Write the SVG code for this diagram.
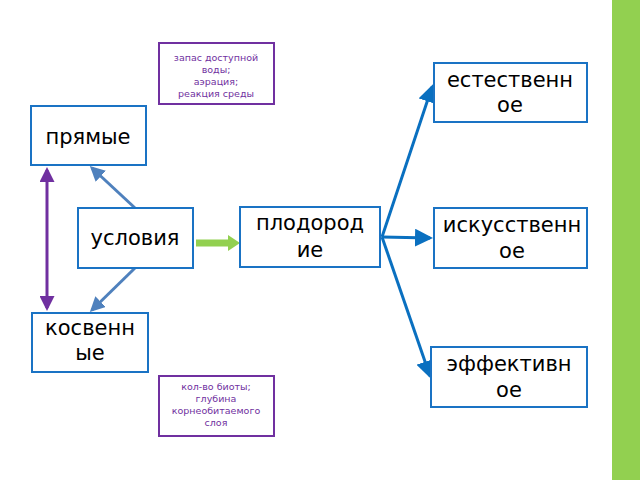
<svg xmlns="http://www.w3.org/2000/svg" width="640" height="480" viewBox="0 0 640 480">
<style>
.b{fill:#fff;stroke:#1a73c4;stroke-width:2}
.p{fill:#fff;stroke:#7030a0;stroke-width:2}
.t{font-family:"DejaVu Sans",sans-serif;font-size:21px;fill:#000;text-anchor:middle}
.s{font-family:"DejaVu Sans",sans-serif;font-size:9.5px;fill:#7030a0;text-anchor:middle}
</style>
<defs>
<marker id="ab" markerWidth="6" markerHeight="6" refX="5" refY="3" orient="auto" markerUnits="strokeWidth"><path d="M0,0L6,3L0,6z" fill="#0a70c0"/></marker>
<marker id="ag" markerWidth="5" markerHeight="5" refX="4" refY="2.5" orient="auto" markerUnits="strokeWidth"><path d="M0,0L5,2.5L0,5z" fill="#4f81bd"/></marker>
<marker id="ap" markerWidth="5" markerHeight="5" refX="4" refY="2.5" orient="auto-start-reverse" markerUnits="strokeWidth"><path d="M0,0L5,2.5L0,5z" fill="#7030a0"/></marker>
</defs>
<rect x="612" y="0" width="28" height="480" fill="#92d050"/>
<g id="connectors" fill="none">
<path d="M135,208L92,168" stroke="#4f81bd" stroke-width="3" marker-end="url(#ag)"/>
<path d="M135,268L92,310" stroke="#4f81bd" stroke-width="3" marker-end="url(#ag)"/>
<path d="M47,170V308" stroke="#7030a0" stroke-width="3" marker-start="url(#ap)" marker-end="url(#ap)"/>
<path d="M196,243H232" stroke="#92d050" stroke-width="7"/>
<path d="M228,235L240,243L228,251z" fill="#92d050"/>
<path d="M382,237L432,87" stroke="#0a70c0" stroke-width="3" marker-end="url(#ab)"/>
<path d="M382,237L430,238" stroke="#0a70c0" stroke-width="3" marker-end="url(#ab)"/>
<path d="M382,237L430,376" stroke="#0a70c0" stroke-width="3" marker-end="url(#ab)"/>
</g>
<g id="n1"><rect class="p" x="159" y="43" width="115" height="61"/><text class="s"><tspan x="216" y="61">запас доступной</tspan><tspan x="216" y="73">воды;</tspan><tspan x="216" y="85">аэрация;</tspan><tspan x="216" y="97">реакция среды</tspan></text></g>
<g id="n2"><rect class="p" x="159" y="376" width="115" height="60"/><text class="s"><tspan x="216" y="390">кол-во биоты;</tspan><tspan x="216" y="402">глубина</tspan><tspan x="216" y="414">корнеобитаемого</tspan><tspan x="216" y="426">слоя</tspan></text></g>
<g id="pr"><rect class="b" x="31" y="106" width="115" height="59"/><text class="t" x="88" y="144">прямые</text></g>
<g id="us"><rect class="b" x="78" y="208" width="115" height="60"/><text class="t" x="135" y="245">условия</text></g>
<g id="ko"><rect class="b" x="32" y="313" width="116" height="59"/><text class="t"><tspan x="90" y="335">косвенн</tspan><tspan x="90" y="360">ые</tspan></text></g>
<g id="pl"><rect class="b" x="240" y="207" width="140" height="60"/><text class="t"><tspan x="310" y="230">плодород</tspan><tspan x="310" y="257">ие</tspan></text></g>
<g id="es"><rect class="b" x="434" y="63" width="153" height="59"/><text class="t"><tspan x="510" y="87">естественн</tspan><tspan x="510" y="112">ое</tspan></text></g>
<g id="is"><rect class="b" x="434" y="208" width="153" height="60"/><text class="t"><tspan x="512" y="232">искусственн</tspan><tspan x="512" y="258">ое</tspan></text></g>
<g id="ef"><rect class="b" x="431" y="347" width="156" height="60"/><text class="t"><tspan x="509" y="371">эффективн</tspan><tspan x="509" y="397">ое</tspan></text></g>
</svg>
